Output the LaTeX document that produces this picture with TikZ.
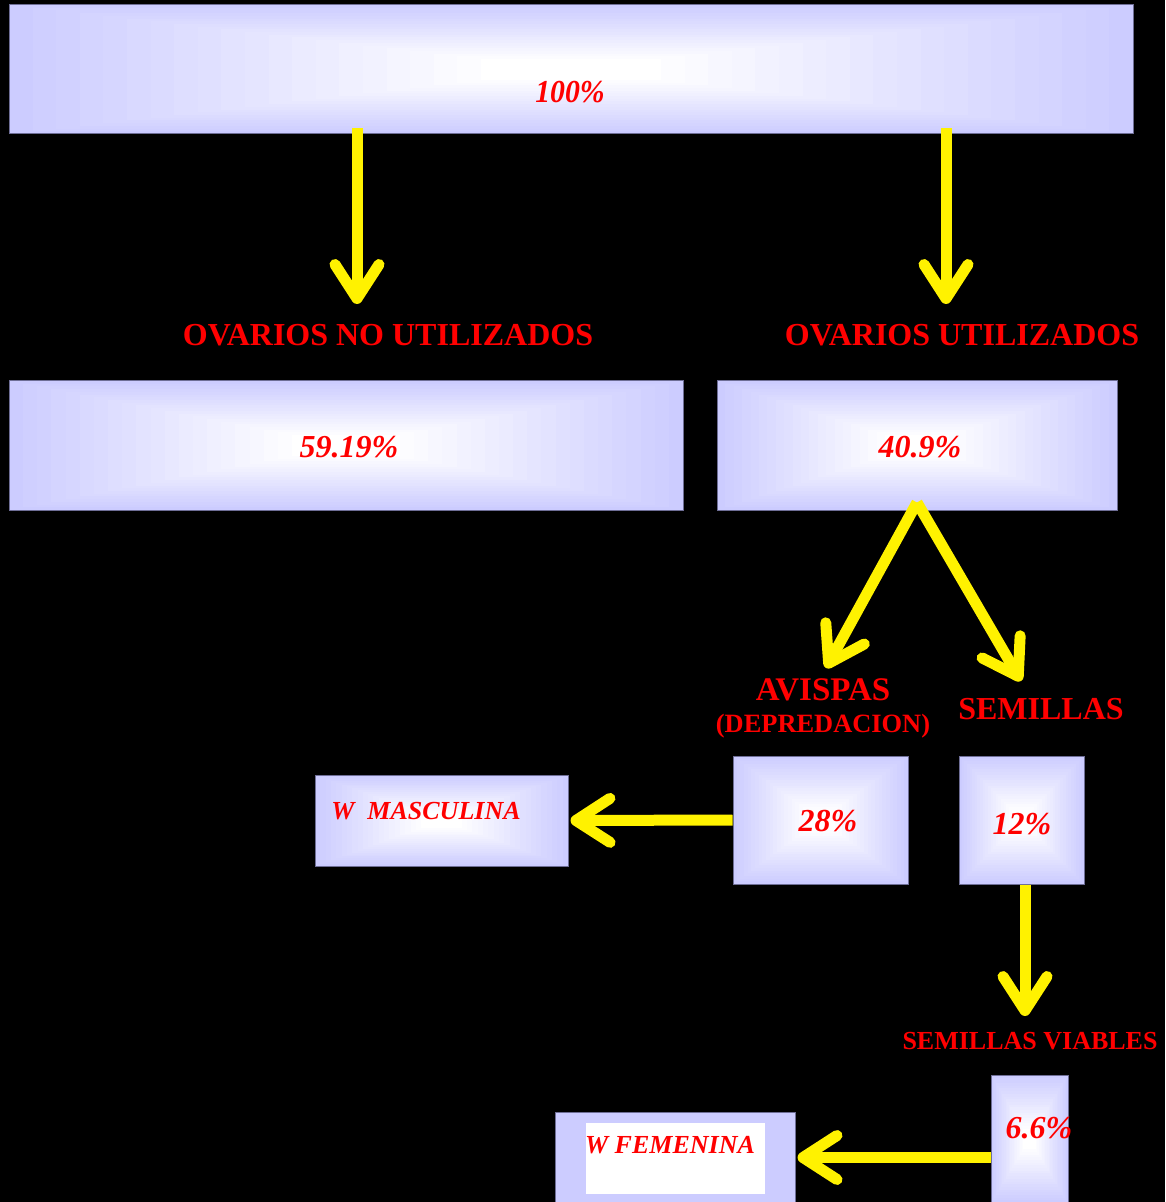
\documentclass[tikz,border=0pt]{standalone}
\usepackage{fontspec}
\setmainfont{Liberation Serif}
\usetikzlibrary{positioning,calc,arrows.meta}

\definecolor{lav}{RGB}{204,204,255}
\definecolor{rim}{RGB}{110,110,150}

\tikzset{
  size/.style 2 args={minimum width=#1*0.5pt, minimum height=#2*0.5pt},
  panel/.style={rectangle, draw=rim, line width=0.5pt, fill=lav, inner sep=0pt,
    path picture={
      \foreach \t in {1,...,20}{
        \pgfmathsetmacro\f{\t*0.021}
        \pgfmathsetmacro\c{\t*5}
        \fill[white!\c!lav]
          ($(path picture bounding box.south west)!\f!(path picture bounding box.north east)$)
          rectangle
          ($(path picture bounding box.north east)!\f!(path picture bounding box.south west)$);
      }
    }},
  flatpanel/.style={rectangle, draw=rim, line width=0.5pt, fill=lav, inner sep=0pt},
  head/.style={text=red, inner sep=0pt, font=\fontsize{16}{18}\selectfont\bfseries},
  small/.style={text=red, inner sep=0pt, font=\fontsize{13.2}{15}\selectfont\bfseries},
  pct/.style={text=red, inner sep=0pt, font=\fontsize{16}{18}\selectfont\bfseries\itshape},
  tag/.style={text=red, inner sep=0pt, font=\fontsize{13}{15}\selectfont\bfseries\itshape},
  flow/.style={draw=yellow, line width=5.5pt,
    -{Straight Barb[length=17pt,width=22pt,round]}},
}

\begin{document}
\begin{tikzpicture}[x=0.5pt, y=-0.5pt]

\fill[black, use as bounding box] (0,0) rectangle (1165,1202);
\clip (0,0) rectangle (1165,1202);

% boxes
\node[panel, size={1124}{129}] (top) at (571,69.5) {};
\node[panel, size={674}{129}] (no) at (346,445.5) {};
\node[panel, size={400}{129}] (yes) at (917,445.5) {};
\node[panel, size={175}{128}] (k28) at (820.5,820) {};
\node[panel, size={125}{128}] (k12) at (1021.5,820) {};
\node[panel, size={253}{91}] (wm) at (441.5,820.5) {};
\node[panel, size={77}{128}] (k66) at (1029.5,1139) {};
\node[flatpanel, size={240}{91}] (wf) at (675,1157.5) {};
\node[fill=white, inner sep=0pt, size={179}{71}] (wfin) at (675.5,1158.5) {};

% texts in boxes
\node[pct, font=\fontsize{16}{18}\selectfont\bfseries\itshape] (t100) at (570,92) {\scalebox{0.93}[1]{100\%}};
\node[pct] (tno) at (349,447) {59.19\%};
\node[pct] (tyes) at (920,447) {40.9\%};
\node[pct] (t28) at (828,821) {28\%};
\node[pct] (t12) at (1022,824) {12\%};
\node[pct] (t66) at (1039,1128) {6.6\%};
\node[tag] (twm) at (426,811) {W\ \ MASCULINA};
\node[tag] (twf) at (670,1145) {W FEMENINA};

% labels
\node[head] (lno) at (388,335) {OVARIOS NO UTILIZADOS};
\node[head] (lyes) at (962,335) {OVARIOS UTILIZADOS};
\node[head, font=\fontsize{16.5}{18}\selectfont\bfseries] (lavi) at (823,690) {AVISPAS};
\node[head] (lsem) at (1041,709) {SEMILLAS};
\node[small] (ldep) at (823,726) {(DEPREDACION)};
\node[small, font=\fontsize{13}{15}\selectfont\bfseries] (lsv) at (1030,1041) {SEMILLAS VIABLES};

% arrows
\coordinate (a1) at (357,304);
\coordinate (a2) at (946,304);
\coordinate (a3) at (826,668);
\coordinate (a4) at (1021,681);
\coordinate (a5) at (1025,1016);

\draw[flow] ([yshift=3pt]top.south -| a1) -- (a1);
\draw[flow] ([yshift=3pt]top.south -| a2) -- (a2);
\draw[flow] ([yshift=4pt]yes.south) -- (a3);
\draw[flow] ([yshift=4pt]yes.south) -- (a4);
\draw[flow] (k28.west) -- ([xshift=1pt]wm.east);
\draw[flow] (k12.south -| a5) -- (a5);
\draw[flow] (k66.west |- wf.east) -- ([xshift=1pt]wf.east);
\end{tikzpicture}
\end{document}
